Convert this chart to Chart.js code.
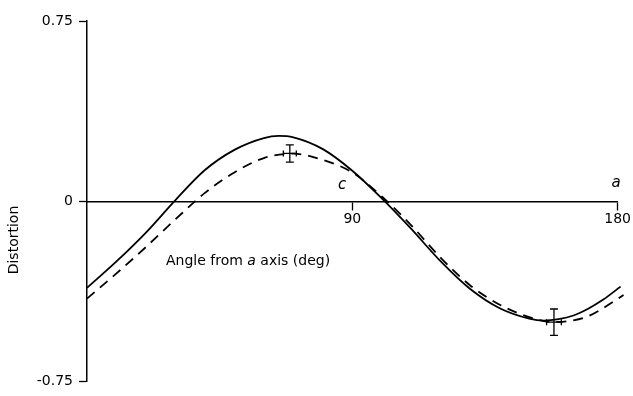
<!DOCTYPE html>
<html lang="en">
<head>
    <meta charset="UTF-8">
    <title>Distortion vs angle</title>
    <script src="https://cdn.jsdelivr.net/npm/chart.js"></script>
    <style>
        html, body { margin: 0; padding: 0; background: #fff; }
        #wrap { width: 633px; height: 396px; }
    </style>
</head>
<body>
    <div id="wrap">
        <canvas id="distChart" width="633" height="396"></canvas>
    </div>

    <script>
        // Calculated curve (solid)
        const angleSolid = [0, 10, 20, 30, 40, 50, 60, 65, 70, 80, 90, 100, 110, 120, 130, 140, 150, 155, 160, 165, 170, 175, 181];
        const distSolid = [-0.36, -0.25, -0.13, 0.005, 0.13, 0.214, 0.263, 0.272, 0.266, 0.217, 0.127, 0.012, -0.115, -0.25, -0.365, -0.445, -0.488, -0.496, -0.49, -0.475, -0.447, -0.41, -0.355];

        // Measured curve (dashed)
        const angleDashed = [0, 10, 20, 30, 40, 50, 60, 70, 80, 90, 100, 110, 120, 130, 140, 150, 155, 160, 165, 170, 175, 182];
        const distDashed = [-0.405, -0.30, -0.19, -0.075, 0.035, 0.12, 0.18, 0.198, 0.172, 0.12, 0.02, -0.10, -0.235, -0.35, -0.43, -0.482, -0.498, -0.502, -0.495, -0.478, -0.445, -0.39];

        // Error bars on the dashed curve
        const errAngle = [68.8, 158.4];
        const errDist = [0.199, -0.503];
        const errAngleSize = [2.2, 2.5];
        const errDistSize = [0.036, 0.055];

        const xTicks = [90, 180];
        const yTicks = [-0.75, 0, 0.75];
        const yTickLabels = { '-0.75': '-0.75', '0': '0', '0.75': '0.75' };

        const FONT = 'DejaVu Sans';

        const toPoints = (xs, ys) => xs.map((x, i) => ({ x: x, y: ys[i] }));

        // error bars drawn with caps
        const errorBars = {
            id: 'errorBars',
            afterDatasetsDraw(chart) {
                const { ctx, scales: { x, y } } = chart;
                ctx.save();
                ctx.strokeStyle = '#000';
                ctx.lineWidth = 1.3;
                errAngle.forEach((a, i) => {
                    const px = x.getPixelForValue(a);
                    const py = y.getPixelForValue(errDist[i]);
                    const top = y.getPixelForValue(errDist[i] + errDistSize[i]);
                    const bot = y.getPixelForValue(errDist[i] - errDistSize[i]);
                    const left = x.getPixelForValue(a - errAngleSize[i]);
                    const right = x.getPixelForValue(a + errAngleSize[i]);
                    ctx.beginPath();
                    ctx.moveTo(px, top); ctx.lineTo(px, bot);
                    ctx.moveTo(px - 4, top); ctx.lineTo(px + 4, top);
                    ctx.moveTo(px - 4, bot); ctx.lineTo(px + 4, bot);
                    ctx.moveTo(left, py); ctx.lineTo(right, py);
                    ctx.moveTo(left, py - 3); ctx.lineTo(left, py + 3);
                    ctx.moveTo(right, py - 3); ctx.lineTo(right, py + 3);
                    ctx.stroke();
                });
                ctx.restore();
            }
        };

        // axis letters and titles
        const labels = {
            id: 'labels',
            afterDraw(chart) {
                const { ctx, scales: { x, y } } = chart;
                ctx.save();
                ctx.fillStyle = '#000';
                ctx.textBaseline = 'middle';

                ctx.font = 'italic 15px ' + FONT;
                ctx.textAlign = 'center';
                ctx.fillText('c', x.getPixelForValue(86.5), y.getPixelForValue(0.068));
                ctx.fillText('a', x.getPixelForValue(179.5), y.getPixelForValue(0.075));

                // "Angle from a axis (deg)" with italic a
                ctx.textAlign = 'left';
                let px = x.getPixelForValue(26.8);
                const py = y.getPixelForValue(-0.25);
                const parts = [['Angle from ', '14px '], ['a', 'italic 14px '], [' axis (deg)', '14px ']];
                parts.forEach(([t, f]) => {
                    ctx.font = f + FONT;
                    ctx.fillText(t, px, py);
                    px += ctx.measureText(t).width;
                });

                // vertical title
                ctx.font = '14px ' + FONT;
                ctx.translate(14, 240);
                ctx.rotate(-Math.PI / 2);
                ctx.textAlign = 'center';
                ctx.fillText('Distortion', 0, 0);
                ctx.restore();
            }
        };

        new Chart(document.getElementById('distChart'), {
            type: 'line',
            data: {
                datasets: [
                    {
                        data: toPoints(angleSolid, distSolid),
                        borderColor: '#000',
                        borderWidth: 1.8,
                        pointRadius: 0,
                        cubicInterpolationMode: 'monotone',
                        fill: false
                    },
                    {
                        data: toPoints(angleDashed, distDashed),
                        borderColor: '#000',
                        borderWidth: 1.8,
                        borderDash: [10, 7],
                        pointRadius: 0,
                        cubicInterpolationMode: 'monotone',
                        fill: false
                    }
                ]
            },
            options: {
                responsive: false,
                animation: false,
                clip: false,
                layout: { padding: { top: 21, right: 10, bottom: 11, left: 0 } },
                plugins: { legend: { display: false }, tooltip: { enabled: false } },
                scales: {
                    x: {
                        type: 'linear',
                        position: { y: 0 },
                        min: 0,
                        max: 180,
                        afterBuildTicks: (s) => { s.ticks = xTicks.map(v => ({ value: v })); },
                        grid: { drawOnChartArea: false, drawTicks: true, tickLength: 8, color: '#000', tickWidth: 1.3 },
                        border: { color: '#000', width: 1.5 },
                        ticks: { color: '#000', font: { family: FONT, size: 14 }, padding: 2, maxRotation: 0 }
                    },
                    y: {
                        type: 'linear',
                        min: -0.75,
                        max: 0.75,
                        afterBuildTicks: (s) => { s.ticks = yTicks.map(v => ({ value: v })); },
                        afterFit: (s) => { s.width = 87; },
                        grid: { drawOnChartArea: false, drawTicks: true, tickLength: 8, color: '#000', tickWidth: 1.3 },
                        border: { color: '#000', width: 1.5 },
                        ticks: {
                            color: '#000',
                            font: { family: FONT, size: 14 },
                            padding: 6,
                            callback: (v) => yTickLabels[String(v)]
                        }
                    }
                }
            },
            plugins: [errorBars, labels]
        });
    </script>
</body>
</html>
